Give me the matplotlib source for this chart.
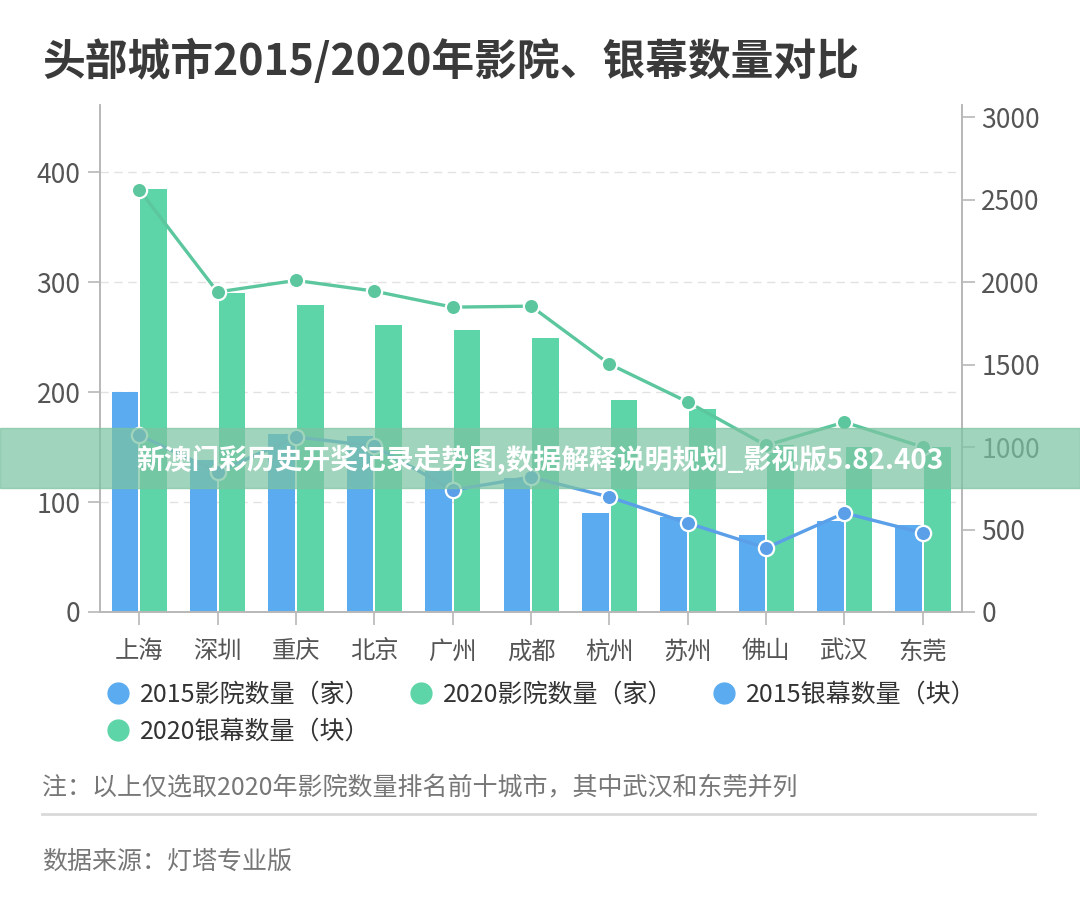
import matplotlib
matplotlib.use("Agg")
import matplotlib.pyplot as plt
from matplotlib.lines import Line2D
import numpy as np

plt.rcParams['font.family'] = ['Noto Sans CJK SC', 'DejaVu Sans']

cities = ["上海", "深圳", "重庆", "北京", "广州", "成都", "杭州", "苏州", "佛山", "武汉", "东莞"]
cinemas_2015 = [200, 138, 162, 160, 128, 122, 90, 86, 70, 83, 79]
cinemas_2020 = [385, 290, 279, 261, 256, 249, 193, 185, 152, 150, 150]
screens_2015 = [1073, 848, 1061, 1006, 739, 818, 697, 539, 388, 600, 479]
screens_2020 = [2560, 1940, 2010, 1945, 1848, 1854, 1503, 1273, 1010, 1151, 1000]

left_ticks = [0, 100, 200, 300, 400]
right_ticks = [0, 500, 1000, 1500, 2000, 2500, 3000]

BLUE = "#5aabf0"
GREEN = "#5dd5a8"
BLUE_LINE = "#5b9fe8"
GREEN_LINE = "#5cc79e"
AXIS = "#b8b8b8"
TEXT = "#555555"

W, H = 1080, 918
fig = plt.figure(figsize=(W / 100, H / 100), dpi=100)
ax = fig.add_axes([100 / W, 1 - 612 / H, 862 / W, 507 / H])
ax2 = ax.twinx()

x = np.arange(len(cities))
ax.bar(x - 0.18, cinemas_2015, width=0.34, color=BLUE, zorder=2)
ax.bar(x + 0.185, cinemas_2020, width=0.34, color=GREEN, zorder=2)

ax2.plot(x, screens_2015, color=BLUE_LINE, lw=2.4, marker="o", ms=11,
         mfc=BLUE_LINE, mec="white", mew=1.6, zorder=3)
ax2.plot(x, screens_2020, color=GREEN_LINE, lw=2.4, marker="o", ms=11,
         mfc=GREEN_LINE, mec="white", mew=1.6, zorder=3)

top_left = 461
ax.set_ylim(0, top_left)
ax2.set_ylim(0, top_left * 3000 / 450)
ax.set_xlim(-0.5, len(cities) - 0.5)

ax.set_yticks(left_ticks)
ax2.set_yticks(right_ticks)
ax.set_xticks(x)
ax.set_xticklabels(cities)

ax.grid(axis="y", color="#e2e2e2", ls=(0, (6, 4)), lw=1, zorder=0)
ax.set_axisbelow(True)

for a in (ax, ax2):
    a.spines["top"].set_visible(False)
    for s in ("left", "right", "bottom"):
        a.spines[s].set_color(AXIS)
        a.spines[s].set_linewidth(1.2)
    a.tick_params(colors=AXIS, labelcolor=TEXT, labelsize=19, length=9, width=1.2)
ax.tick_params(axis="x", labelsize=17.5, pad=10)
ax.tick_params(axis="y", pad=5)
ax2.tick_params(axis="y", pad=5)

fig.text(42 / W, 1 - 61 / H, "头部城市2015/2020年影院、银幕数量对比",
         fontsize=30.8, fontweight="bold", color="#3a3a3a", va="center", ha="left")

# legend is filled column by column, so order entries to read row by row
handles = [
    Line2D([], [], ls="none", marker="o", ms=15, color=BLUE),
    Line2D([], [], ls="none", marker="o", ms=15, color=GREEN),
    Line2D([], [], ls="none", marker="o", ms=15, color=GREEN),
    Line2D([], [], ls="none", marker="o", ms=15, color=BLUE),
]
labels = ["2015影院数量（家）", "2020银幕数量（块）", "2020影院数量（家）", "2015银幕数量（块）"]
fig.legend(handles, labels, loc="upper left", bbox_to_anchor=(85 / W, 1 - 659 / H),
           ncol=3, frameon=False, fontsize=18, handlelength=0.8, handletextpad=0.5,
           columnspacing=1.6, labelspacing=0.45, labelcolor="#333333")

fig.text(42 / W, 1 - 787 / H, "注：以上仅选取2020年影院数量排名前十城市，其中武汉和东莞并列",
         fontsize=18, color="#777777", va="center", ha="left")
fig.add_artist(Line2D([42 / W, 1035 / W], [1 - 814 / H, 1 - 814 / H], color="#d9d9d9", lw=2))
fig.text(42 / W, 1 - 862 / H, "数据来源：灯塔专业版",
         fontsize=18, color="#777777", va="center", ha="left")

# watermark banner across the chart
fig.patches.append(plt.Rectangle((0, 1 - 488 / H), 1, 60 / H, transform=fig.transFigure,
                                 color="#7cc4a2", alpha=0.72, zorder=5))
fig.text(540 / W, 1 - 460 / H, "新澳门彩历史开奖记录走势图,数据解释说明规划_影视版5.82.403",
         fontsize=20, fontweight="bold", color="white", va="center", ha="center", zorder=6)

fig.savefig("out.png", dpi=100)
